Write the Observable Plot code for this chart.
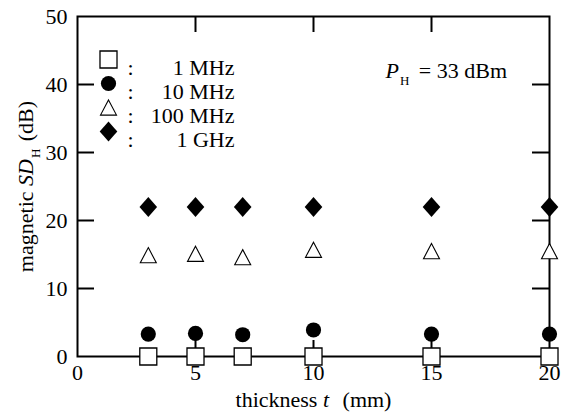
<!DOCTYPE html>
<html>
<head>
<meta charset="utf-8">
<script src="https://cdn.jsdelivr.net/npm/d3@7"></script>
<script src="https://cdn.jsdelivr.net/npm/@observablehq/plot@0.6"></script>
<style>
  body { margin: 0; background: #fff; }
  #chart svg { display: block; }
  #chart svg text { font-family: "Liberation Serif", serif; }
</style>
</head>
<body>
<div id="chart"></div>
<script>
// Magnetic shielding degree vs. thickness, at four frequencies
const thickness = [3, 5, 7, 10, 15, 20];
const sd1MHz   = [0, 0, 0, 0, 0, 0];
const sd10MHz  = [3.3, 3.4, 3.2, 3.9, 3.3, 3.3];
const sd100MHz = [14.9, 15.1, 14.6, 15.7, 15.5, 15.5];
const sd1GHz   = [22, 22, 22, 22, 22, 22];

const seriesLabels = ["1 MHz", "10 MHz", "100 MHz", "1 GHz"];
const xTickLabels = [0, 5, 10, 15, 20];
const yTickLabels = [0, 10, 20, 30, 40, 50];
const xInnerTicks = [5, 10, 15];
const yInnerTicks = [10, 20, 30, 40];

const xLabel = "thickness t (mm)";
const yLabel = "magnetic SD_H (dB)";
const noteLabel = "P_H = 33 dBm";

// layout
const W = 566, H = 420;
const mL = 77, mR = 17, mT = 16, mB = 64;
const plotW = W - mL - mR, plotH = H - mT - mB;
const tickLenX = 17, tickLenY = 16;
const font = "Liberation Serif";
const fs = 22;

// marker shapes
const triangleUp = {
  draw(ctx, size) {
    const r = Math.sqrt(size / Math.PI);
    ctx.moveTo(0, -r * 0.95);
    ctx.lineTo(r, r * 0.95);
    ctx.lineTo(-r, r * 0.95);
    ctx.closePath();
  }
};
const diamond = {
  draw(ctx, size) {
    const r = Math.sqrt(size / Math.PI);
    ctx.moveTo(0, -r);
    ctx.lineTo(r * 0.88, 0);
    ctx.lineTo(0, r);
    ctx.lineTo(-r * 0.88, 0);
    ctx.closePath();
  }
};

const series = [
  {values: sd1MHz,   symbol: "square",   r: 9.6, fill: "white", strokeWidth: 1.3},
  {values: sd10MHz,  symbol: "circle",   r: 7.6, fill: "black", strokeWidth: 0},
  {values: sd100MHz, symbol: triangleUp, r: 8,   fill: "white", strokeWidth: 1.1},
  {values: sd1GHz,   symbol: diamond,    r: 10,  fill: "black", strokeWidth: 0}
];

const seriesMarks = series.map(s =>
  Plot.dot(thickness.map((t, i) => ({t, v: s.values[i]})), {
    x: "t", y: "v", symbol: () => s.symbol, r: s.r,
    fill: s.fill, stroke: "black", strokeWidth: s.strokeWidth
  })
);

// legend rows in the upper-left corner of the frame
const legendMarks = series.flatMap((s, i) => {
  const dy = 43 + i * 24;
  return [
    Plot.dot([0], {frameAnchor: "top-left", dx: 31, dy, symbol: () => s.symbol, r: s.r,
      fill: s.fill, stroke: "black", strokeWidth: s.strokeWidth}),
    Plot.text([":"], {frameAnchor: "top-left", dx: 53, dy, text: d => d, fontSize: fs, fontFamily: font, textAnchor: "middle"}),
    Plot.text([seriesLabels[i]], {frameAnchor: "top-left", dx: 157, dy, text: d => d, fontSize: fs, fontFamily: font, textAnchor: "end"})
  ];
});

const chart = Plot.plot({
  width: W, height: H,
  marginLeft: mL, marginRight: mR, marginTop: mT, marginBottom: mB,
  style: {fontFamily: font, fontSize: fs + "px", color: "black", background: "white"},
  x: {domain: [0, 20]},
  y: {domain: [0, 50]},
  marks: [
    // inward tick marks on all four sides
    Plot.tickY(yInnerTicks, {y: d => d, stroke: "black", strokeWidth: 2, insetRight: plotW - tickLenX}),
    Plot.tickY(yInnerTicks, {y: d => d, stroke: "black", strokeWidth: 2, insetLeft: plotW - tickLenX}),
    Plot.tickX(xInnerTicks, {x: d => d, stroke: "black", strokeWidth: 2, insetTop: plotH - tickLenY}),
    Plot.tickX(xInnerTicks, {x: d => d, stroke: "black", strokeWidth: 2, insetBottom: plotH - tickLenY}),
    Plot.frame({stroke: "black", strokeWidth: 2}),
    Plot.axisY({ticks: yTickLabels, tickSize: 0, tickPadding: 10, fontSize: fs, fontFamily: font, label: null}),
    Plot.axisX({ticks: xTickLabels, tickSize: 0, tickPadding: 8, fontSize: fs, fontFamily: font, label: null}),
    ...seriesMarks,
    ...legendMarks,
    Plot.text([yLabel], {frameAnchor: "left", dx: -52, rotate: -90, text: d => d, fontSize: fs, fontFamily: font, textAnchor: "middle"}),
    Plot.text([xLabel], {frameAnchor: "bottom", dy: 50, text: d => d, fontSize: fs, fontFamily: font, textAnchor: "middle"}),
    Plot.text([noteLabel], {frameAnchor: "top-left", dx: 308, dy: 46, text: d => d, fontSize: fs, fontFamily: font, textAnchor: "start"})
  ]
});

// drawn at 1:1, so the viewBox is not needed
chart.removeAttribute("viewBox");

// italic symbols and subscripts
function richText(svg, plain, parts) {
  d3.select(svg).selectAll("text")
    .filter(function () { return this.textContent === plain; })
    .each(function () {
      const t = d3.select(this);
      t.text(null);
      let shift = 0;
      for (const p of parts) {
        const s = t.append("tspan").text(p.text);
        if (p.italic) s.attr("font-style", "italic");
        if (p.sub) {
          s.attr("font-size", 13).attr("dy", 7).attr("dx", 1);
          shift = 7;
        } else if (shift) {
          s.attr("dy", -shift);
          shift = 0;
        }
        if (p.dx) s.attr("dx", p.dx);
      }
    });
}
richText(chart, yLabel, [{text: "magnetic "}, {text: "SD", italic: true}, {text: "H", sub: true}, {text: " (dB)", dx: 2}]);
richText(chart, xLabel, [{text: "thickness "}, {text: "t", italic: true}, {text: " (mm)", dx: 8}]);
richText(chart, noteLabel, [{text: "P", italic: true}, {text: "H", sub: true}, {text: " = 33 dBm", dx: 4}]);

document.getElementById("chart").appendChild(chart);
</script>
</body>
</html>
